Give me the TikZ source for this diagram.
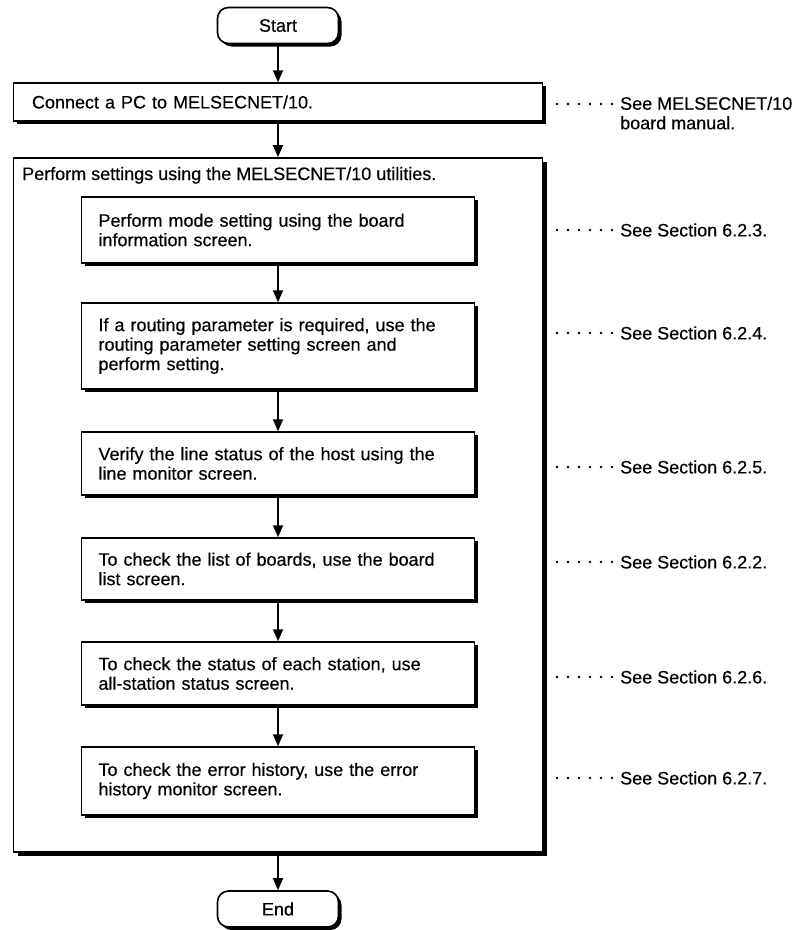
\documentclass[tikz,border=0pt]{standalone}
\usepackage{fontspec}
\setmainfont{Liberation Sans}[FakeBold=0.35]
\usetikzlibrary{arrows.meta,shadows,calc}

\tikzset{
  txt/.style={font=\fontsize{18}{19.5}\selectfont, inner sep=0pt},
  hardshadow/.style={general shadow={fill=black, shadow xshift=#1, shadow yshift=-#1}},
  terminal/.style={txt, draw, line width=1.6pt, rounded corners=11pt, fill=white,
    minimum width=121pt, minimum height=36pt, hardshadow=3pt},
  stepbox/.style={txt, draw, line width=1.5pt, fill=white,
    minimum width=393pt, text width=359pt, align=left, hardshadow=3pt},
  widebox/.style={txt, draw, line width=1.5pt, fill=white,
    minimum width=529pt, text width=492pt, align=left, hardshadow=3pt},
  groupbox/.style={draw, line width=1.6pt, fill=white, minimum width=529pt, hardshadow=4pt},
  flow/.style={line width=1.8pt, -{Triangle[length=12pt,width=10pt]}},
  leader/.style={line width=2.6pt, line cap=round, dash pattern=on 0pt off 11pt, shorten >=7pt},
  note/.style={txt, anchor=west, align=left},
}

\begin{document}
\begin{tikzpicture}[x=1pt,y=-1pt]
\useasboundingbox (0,0) rectangle (802,930);

% start, first step and the settings group
\node[terminal] (start) at (278,25.5) {Start};
\node[widebox, minimum height=38pt] (connect) at (278,102) {Connect a PC to MELSECNET/10.};
\node[groupbox, minimum height=694pt] (group) at (278,505) {};
\node[txt, anchor=base west] (grouptitle) at (22,180) {Perform settings using the MELSECNET/10 utilities.};

% utility steps inside the group
\node[stepbox, minimum height=66pt] (s1) at (278,230)
  {Perform mode setting using the board\\information screen.};
\node[stepbox, minimum height=86pt] (s2) at (278,346)
  {If a routing parameter is required, use the\\routing parameter setting screen and\\perform setting.};
\node[stepbox, minimum height=63pt] (s3) at (278,463.5)
  {Verify the line status of the host using the\\line monitor screen.};
\node[stepbox, minimum height=62pt] (s4) at (278,569)
  {To check the list of boards, use the board\\list screen.};
\node[stepbox, minimum height=63pt] (s5) at (278,673.5)
  {To check the status of each station, use\\all-station status screen.};
\node[stepbox, minimum height=68pt] (s6) at (278,781)
  {To check the error history, use the error\\history monitor screen.};

\node[terminal] (end) at (278,909) {End};

% flow arrows
\draw[flow] (start) -- (connect);
\draw[flow] (connect) -- (group);
\draw[flow] (s1) -- (s2);
\draw[flow] (s2) -- (s3);
\draw[flow] (s3) -- (s4);
\draw[flow] (s4) -- (s5);
\draw[flow] (s5) -- (s6);
\draw[flow] (group) -- (end);

% references on the right
\node[txt, anchor=north west, align=left] (n0) at (620,96.5) {See MELSECNET/10\\board manual.};
\node[note] (n1) at (620,230) {See Section 6.2.3.};
\node[note] (n2) at (620,333) {See Section 6.2.4.};
\node[note] (n3) at (620,467) {See Section 6.2.5.};
\node[note] (n4) at (620,562) {See Section 6.2.2.};
\node[note] (n5) at (620,677) {See Section 6.2.6.};
\node[note] (n6) at (620,778) {See Section 6.2.7.};

\coordinate (d0) at (557,104);
\coordinate (d1) at (557,230);
\coordinate (d2) at (557,333);
\coordinate (d3) at (557,467);
\coordinate (d4) at (557,562);
\coordinate (d5) at (557,677);
\coordinate (d6) at (557,778);

\draw[leader] (d0) -- (d0 -| n0.west);
\draw[leader] (d1) -- (n1.west);
\draw[leader] (d2) -- (n2.west);
\draw[leader] (d3) -- (n3.west);
\draw[leader] (d4) -- (n4.west);
\draw[leader] (d5) -- (n5.west);
\draw[leader] (d6) -- (n6.west);
\end{tikzpicture}
\end{document}
